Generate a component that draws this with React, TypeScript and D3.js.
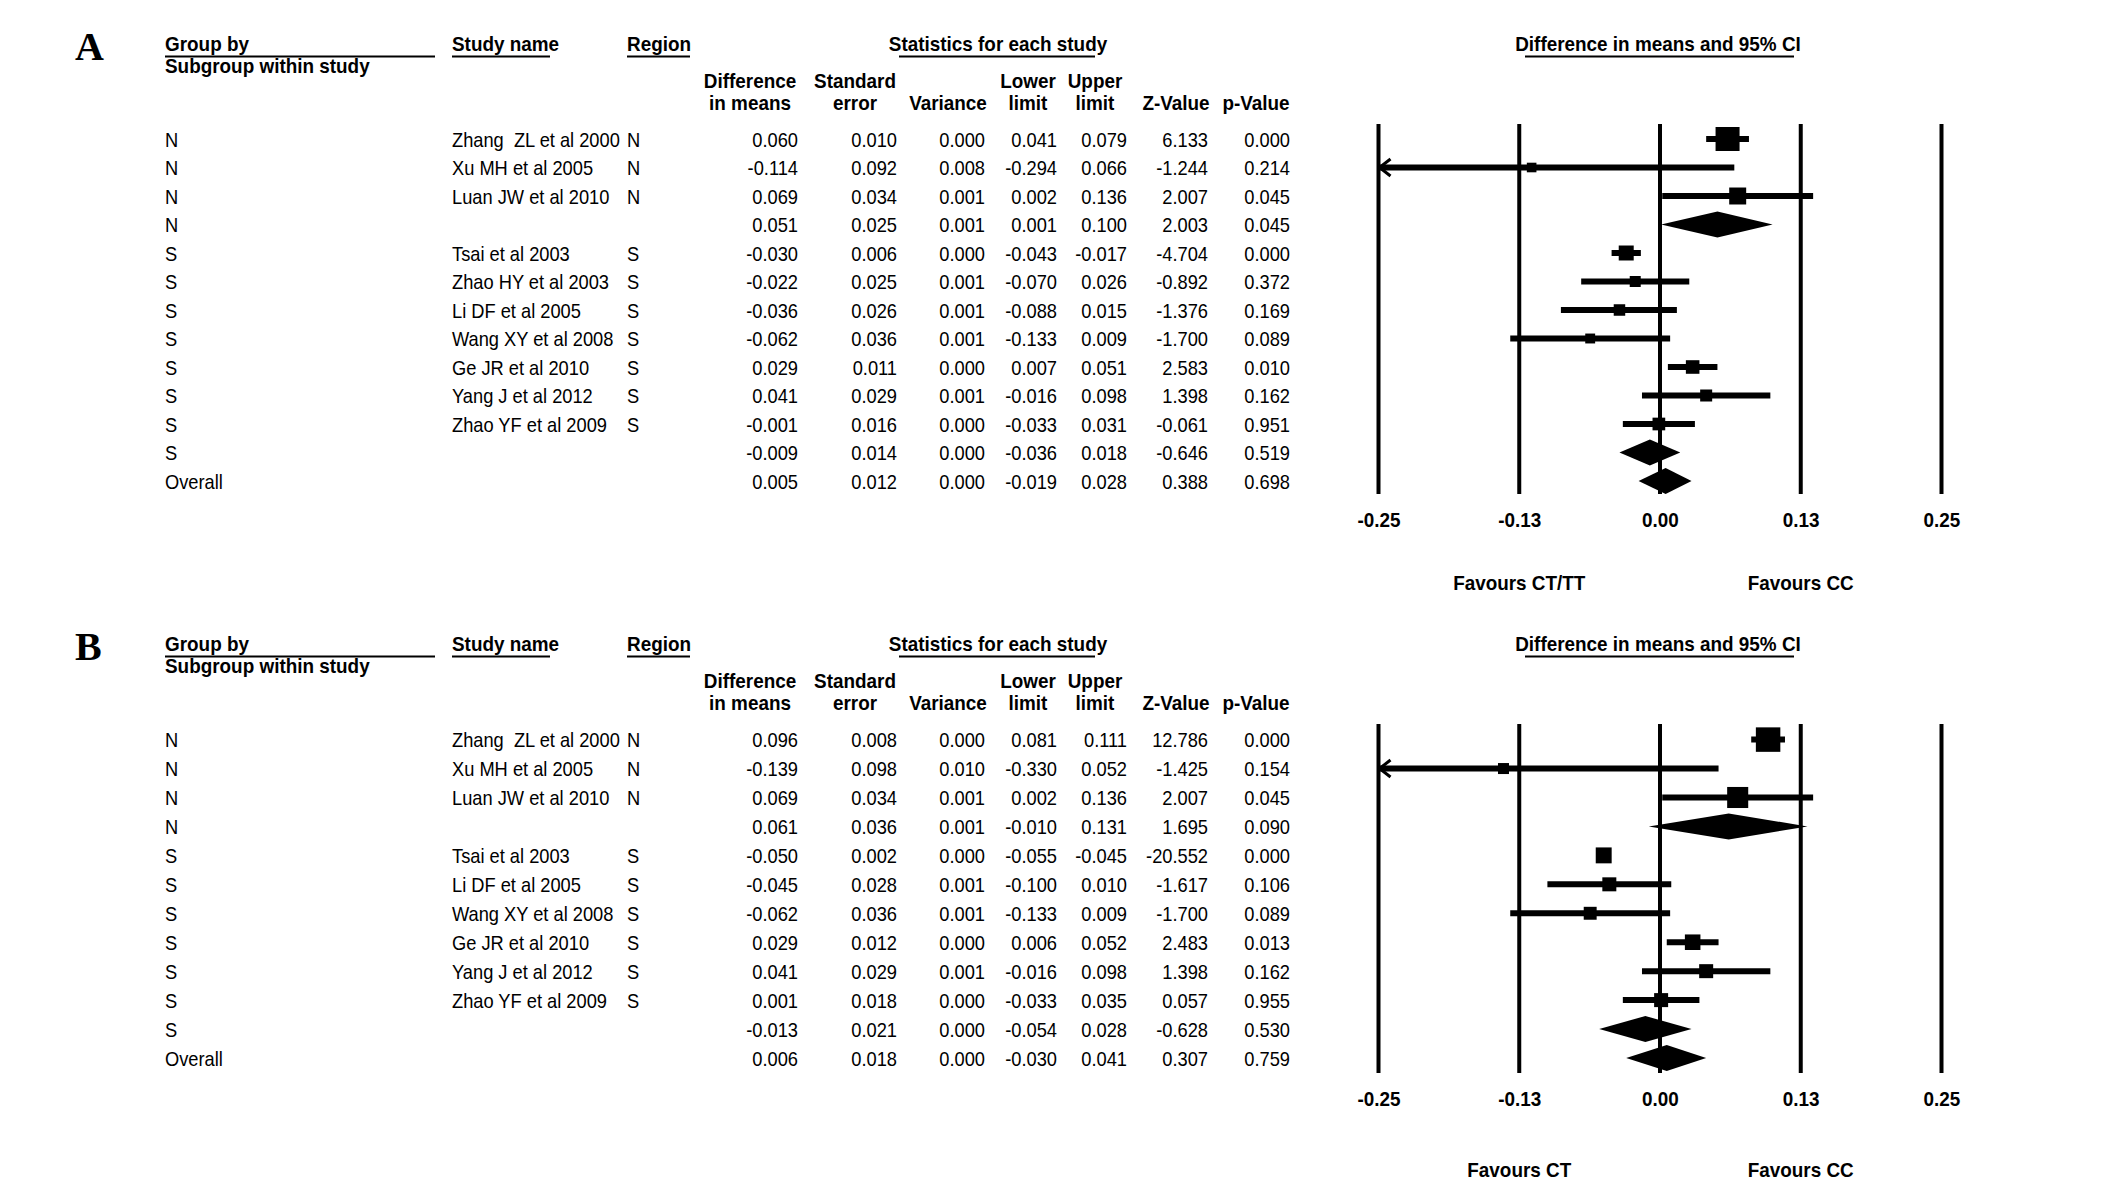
import { useEffect, useRef } from "react";
import * as d3 from "d3";

// ---- Panel A data ----
const groupsA = ["N", "N", "N", "N", "S", "S", "S", "S", "S", "S", "S", "S", "Overall"];
const studiesA = [
  "Zhang  ZL et al 2000", "Xu MH et al 2005", "Luan JW et al 2010", "",
  "Tsai et al 2003", "Zhao HY et al 2003", "Li DF et al 2005", "Wang XY et al 2008",
  "Ge JR et al 2010", "Yang J et al 2012", "Zhao YF et al 2009", "", "",
];
const regionsA = ["N", "N", "N", "", "S", "S", "S", "S", "S", "S", "S", "", ""];
const diffA = [0.06, -0.114, 0.069, 0.051, -0.03, -0.022, -0.036, -0.062, 0.029, 0.041, -0.001, -0.009, 0.005];
const seA = [0.01, 0.092, 0.034, 0.025, 0.006, 0.025, 0.026, 0.036, 0.011, 0.029, 0.016, 0.014, 0.012];
const varA = [0, 0.008, 0.001, 0.001, 0, 0.001, 0.001, 0.001, 0, 0.001, 0, 0, 0];
const lowerA = [0.041, -0.294, 0.002, 0.001, -0.043, -0.07, -0.088, -0.133, 0.007, -0.016, -0.033, -0.036, -0.019];
const upperA = [0.079, 0.066, 0.136, 0.1, -0.017, 0.026, 0.015, 0.009, 0.051, 0.098, 0.031, 0.018, 0.028];
const zA = [6.133, -1.244, 2.007, 2.003, -4.704, -0.892, -1.376, -1.7, 2.583, 1.398, -0.061, -0.646, 0.388];
const pA = [0, 0.214, 0.045, 0.045, 0, 0.372, 0.169, 0.089, 0.01, 0.162, 0.951, 0.519, 0.698];
// relative weights (box area)
const weightA = [100, 16, 50, 0, 39, 21, 23, 17, 32, 25, 28, 0, 0];
const favoursA = ["Favours CT/TT", "Favours CC"];

// ---- Panel B data ----
const groupsB = ["N", "N", "N", "N", "S", "S", "S", "S", "S", "S", "S", "Overall"];
const studiesB = [
  "Zhang  ZL et al 2000", "Xu MH et al 2005", "Luan JW et al 2010", "",
  "Tsai et al 2003", "Li DF et al 2005", "Wang XY et al 2008", "Ge JR et al 2010",
  "Yang J et al 2012", "Zhao YF et al 2009", "", "",
];
const regionsB = ["N", "N", "N", "", "S", "S", "S", "S", "S", "S", "", ""];
const diffB = [0.096, -0.139, 0.069, 0.061, -0.05, -0.045, -0.062, 0.029, 0.041, 0.001, -0.013, 0.006];
const seB = [0.008, 0.098, 0.034, 0.036, 0.002, 0.028, 0.036, 0.012, 0.029, 0.018, 0.021, 0.018];
const varB = [0, 0.01, 0.001, 0.001, 0, 0.001, 0.001, 0, 0.001, 0, 0, 0];
const lowerB = [0.081, -0.33, 0.002, -0.01, -0.055, -0.1, -0.133, 0.006, -0.016, -0.033, -0.054, -0.03];
const upperB = [0.111, 0.052, 0.136, 0.131, -0.045, 0.01, 0.009, 0.052, 0.098, 0.035, 0.028, 0.041];
const zB = [12.786, -1.425, 2.007, 1.695, -20.552, -1.617, -1.7, 2.483, 1.398, 0.057, -0.628, 0.307];
const pB = [0, 0.154, 0.045, 0.09, 0, 0.106, 0.089, 0.013, 0.162, 0.955, 0.53, 0.759];
const weightB = [104, 21, 77, 0, 44, 34, 29, 42, 34, 34, 0, 0];
const favoursB = ["Favours CT", "Favours CC"];

// ---- shared labels ----
const tickValues = [-0.25, -0.125, 0, 0.125, 0.25];
const favourAt = [-0.125, 0.125];
const headTop = ["Difference", "Standard", "", "Lower", "Upper", "", ""];
const headBottom = ["in means", "error", "Variance", "limit", "limit", "Z-Value", "p-Value"];

const W = 2126;
const H = 1200;
const FONT = "'Liberation Sans', Arial, sans-serif";

// layout
const LAYOUT = {
  colGroup: 165,
  colStudy: 452,
  colRegion: 627,
  valueRight: [798, 897, 985, 1057, 1127, 1208, 1290],
  headCenter: [750, 855, 948, 1028, 1095, 1176, 1256],
  plotRange: [1378.5, 1941.5] as [number, number],
  sizeMax: 24,
  diamondHalf: 13,
  ciWidth: 6,
};

type Panel = {
  label: string;
  oy: number;
  rowFirst: number;
  rowLast: number;
  lineTop: number;
  lineBottom: number;
  favY: number;
  groups: string[];
  studies: string[];
  regions: string[];
  cols: number[][];
  diff: number[];
  lower: number[];
  upper: number[];
  weight: number[];
  favours: string[];
};

const panels: Panel[] = [
  {
    label: "A", oy: 0, rowFirst: 139, rowLast: 481, lineTop: 124, lineBottom: 494, favY: 590,
    groups: groupsA, studies: studiesA, regions: regionsA,
    cols: [diffA, seA, varA, lowerA, upperA, zA, pA],
    diff: diffA, lower: lowerA, upper: upperA, weight: weightA, favours: favoursA,
  },
  {
    label: "B", oy: 600, rowFirst: 739.6, rowLast: 1058, lineTop: 724, lineBottom: 1073, favY: 1177,
    groups: groupsB, studies: studiesB, regions: regionsB,
    cols: [diffB, seB, varB, lowerB, upperB, zB, pB],
    diff: diffB, lower: lowerB, upper: upperB, weight: weightB, favours: favoursB,
  },
];

function addText(
  g: d3.Selection<SVGGElement, unknown, null, undefined>,
  x: number,
  y: number,
  s: string,
  anchor: "start" | "middle" | "end" = "start",
  bold = false
) {
  return g
    .append("text")
    .attr("transform", `translate(${x},${y}) scale(${bold ? 0.9 : 0.87},1)`)
    .attr("text-anchor", anchor)
    .attr("font-family", FONT)
    .attr("font-size", 21)
    .attr("font-weight", bold ? "bold" : "normal")
    .style("white-space", "pre")
    .attr("fill", "#000")
    .text(s);
}

function drawPanel(svg: d3.Selection<SVGSVGElement, unknown, null, undefined>, p: Panel) {
  const g = svg.append("g");
  const oy = p.oy;

  // panel letter
  g.append("text")
    .attr("x", 75)
    .attr("y", 60 + oy)
    .attr("font-family", "'Liberation Serif', 'Times New Roman', serif")
    .attr("font-weight", "bold")
    .attr("font-size", 40)
    .text(p.label);

  // top headers + underlines
  const heads: [string, number, "start" | "middle", number, number][] = [
    ["Group by", LAYOUT.colGroup, "start", 165, 435],
    ["Study name", LAYOUT.colStudy, "start", 452, 550],
    ["Region", LAYOUT.colRegion, "start", 627, 690],
    ["Statistics for each study", 998, "middle", 899, 1095],
    ["Difference in means and 95% CI", 1658, "middle", 1525, 1794],
  ];
  heads.forEach(([s, x, a, u0, u1]) => {
    addText(g, x, 51 + oy, s, a, true);
    g.append("line")
      .attr("x1", u0).attr("x2", u1)
      .attr("y1", 56.5 + oy).attr("y2", 56.5 + oy)
      .attr("stroke", "#000").attr("stroke-width", 2);
  });
  addText(g, LAYOUT.colGroup, 73 + oy, "Subgroup within study", "start", true);

  headTop.forEach((s, i) => {
    if (s) addText(g, LAYOUT.headCenter[i], 88 + oy, s, "middle", true);
  });
  headBottom.forEach((s, i) => addText(g, LAYOUT.headCenter[i], 110 + oy, s, "middle", true));

  const n = p.groups.length;
  const y = d3.scaleLinear().domain([0, n - 1]).range([p.rowFirst, p.rowLast]);
  const x = d3.scaleLinear().domain([-0.25, 0.25]).range(LAYOUT.plotRange);
  const size = d3.scaleSqrt().domain([0, 100]).range([0, LAYOUT.sizeMax]);

  // table rows
  for (let i = 0; i < n; i++) {
    const by = y(i) + 7.5;
    addText(g, LAYOUT.colGroup, by, p.groups[i]);
    if (p.studies[i]) addText(g, LAYOUT.colStudy, by, p.studies[i]);
    if (p.regions[i]) addText(g, LAYOUT.colRegion, by, p.regions[i]);
    p.cols.forEach((col, c) => addText(g, LAYOUT.valueRight[c], by, col[i].toFixed(3), "end"));
  }

  // vertical reference lines
  g.selectAll(".vline")
    .data(tickValues)
    .enter()
    .append("line")
    .attr("x1", (d) => x(d)).attr("x2", (d) => x(d))
    .attr("y1", p.lineTop).attr("y2", p.lineBottom)
    .attr("stroke", "#000").attr("stroke-width", 4);

  // axis labels
  const axis = d3
    .axisBottom(x)
    .tickValues(tickValues)
    .tickSize(0)
    .tickPadding(0)
    .tickFormat((d) => (d as number).toFixed(2));
  const ax = g.append("g").attr("transform", `translate(0,${p.lineBottom + 33})`).call(axis);
  ax.select(".domain").remove();
  ax.selectAll("text")
    .attr("y", 0).attr("dy", 0)
    .attr("font-family", FONT)
    .attr("font-size", 21)
    .attr("font-weight", "bold")
    .attr("fill", "#000")
    .attr("transform", "scale(0.9,1)");

  p.favours.forEach((s, i) => addText(g, x(favourAt[i]), p.favY, s, "middle", true));

  // marks
  for (let i = 0; i < n; i++) {
    const cy = y(i);
    const isStudy = p.studies[i] !== "";
    if (isStudy) {
      const lo = Math.max(p.lower[i], -0.25);
      const hi = Math.min(p.upper[i], 0.25);
      g.append("line")
        .attr("x1", x(lo)).attr("x2", x(hi))
        .attr("y1", cy).attr("y2", cy)
        .attr("stroke", "#000").attr("stroke-width", LAYOUT.ciWidth);
      if (p.lower[i] < -0.25) {
        const ax0 = x(-0.25);
        g.append("path")
          .attr("d", `M${ax0 + 12},${cy - 8.5}L${ax0 + 1},${cy}L${ax0 + 12},${cy + 8.5}`)
          .attr("fill", "none").attr("stroke", "#000").attr("stroke-width", 3);
      }
      const s = size(p.weight[i]);
      g.append("rect")
        .attr("x", x(p.diff[i]) - s / 2).attr("y", cy - s / 2)
        .attr("width", s).attr("height", s)
        .attr("fill", "#000");
    } else {
      const h = LAYOUT.diamondHalf;
      g.append("path")
        .attr(
          "d",
          `M${x(p.lower[i])},${cy}L${x(p.diff[i])},${cy - h}L${x(p.upper[i])},${cy}L${x(p.diff[i])},${cy + h}Z`
        )
        .attr("fill", "#000");
    }
  }
}

export default function App() {
  const svgRef = useRef<SVGSVGElement>(null);

  useEffect(() => {
    if (!svgRef.current) return;
    const svg = d3.select(svgRef.current);
    svg.selectAll("*").remove();
    svg.append("rect").attr("width", W).attr("height", H).attr("fill", "#fff");
    panels.forEach((p) => drawPanel(svg, p));
  }, []);

  return (
    <svg
      ref={svgRef}
      width={W}
      height={H}
      style={{ position: "absolute", left: 0, top: 0, display: "block" }}
    />
  );
}
